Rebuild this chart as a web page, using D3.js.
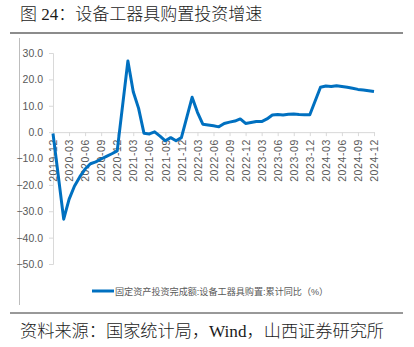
<!DOCTYPE html>
<html>
<head>
<meta charset="utf-8">
<script src="https://cdn.jsdelivr.net/npm/d3@7"></script>
<style>
  html, body { margin: 0; padding: 0; background: #fff; }
  svg { display: block; }
</style>
</head>
<body>
<svg id="chart" width="414" height="347"></svg>
<script>
// Monthly cumulative YoY growth of equipment & tools purchase investment (%)
const months = [
  "2019-12",
  "2020-02","2020-03","2020-04","2020-05","2020-06","2020-07","2020-08","2020-09","2020-10","2020-11","2020-12",
  "2021-02","2021-03","2021-04","2021-05","2021-06","2021-07","2021-08","2021-09","2021-10","2021-11","2021-12",
  "2022-02","2022-03","2022-04","2022-05","2022-06","2022-07","2022-08","2022-09","2022-10","2022-11","2022-12",
  "2023-02","2023-03","2023-04","2023-05","2023-06","2023-07","2023-08","2023-09","2023-10","2023-11","2023-12",
  "2024-02","2024-03","2024-04","2024-05","2024-06","2024-07","2024-08","2024-09","2024-10","2024-11","2024-12"
];
const growth = [
  -0.5,
  -33.0,-25.5,-20.5,-17.0,-14.0,-12.0,-11.3,-10.2,-9.2,-8.2,-7.1,
  27.0,15.3,9.0,-0.4,-0.7,0.1,-1.5,-3.3,-2.1,-3.3,-2.1,
  13.2,7.5,3.0,2.7,2.4,2.0,3.3,3.8,4.2,5.0,3.3,
  4.0,4.0,5.0,6.5,6.7,6.5,6.8,6.9,6.7,6.6,6.6,
  17.0,17.5,17.3,17.6,17.3,17.0,16.6,16.2,16.0,15.7,15.4
];
const xTickLabels = [
  "2019-12","2020-03","2020-06","2020-09","2020-12","2021-03","2021-06","2021-09","2021-12",
  "2022-03","2022-06","2022-09","2022-12","2023-03","2023-06","2023-09","2023-12",
  "2024-03","2024-06","2024-09","2024-12"
];
const yTicks = [30, 20, 10, 0, -10, -20, -30, -40, -50];

const titleText = "图 24：设备工器具购置投资增速";
const legendText = "固定资产投资完成额:设备工器具购置:累计同比（%）";
const sourceText = "资料来源：国家统计局，Wind，山西证券研究所";

// month index relative to the first month of the series
const monthIndex = s => {
  const [y, m] = s.split("-").map(Number);
  return (y - 2019) * 12 + (m - 12);
};

const svg = d3.select("#chart");
const cjk = "'Liberation Serif', 'Noto Sans CJK SC', serif";
const sans = "'Liberation Sans', 'Noto Sans CJK SC', sans-serif";
const narrow = "'Liberation Sans Narrow', 'Liberation Sans', sans-serif";

// header
svg.append("text")
  .attr("x", 20).attr("y", 20)
  .attr("font-family", cjk).attr("font-size", 17).attr("fill", "#1a1a1a")
  .attr("font-weight", 300)
  .text(titleText);
svg.append("line")
  .attr("x1", 10).attr("x2", 403).attr("y1", 33).attr("y2", 33)
  .attr("stroke", "#8c8c8c").attr("stroke-width", 2);

// chart frame edge on the left
svg.append("line")
  .attr("x1", 19.5).attr("x2", 19.5).attr("y1", 38).attr("y2", 305)
  .attr("stroke", "#bdbdbd").attr("stroke-width", 1);

const x = d3.scaleLinear()
  .domain([0, monthIndex("2024-12")])
  .range([53, 374]);
const y = d3.scaleLinear()
  .domain([-50, 30])
  .range([264, 53]);

const grey = "#d9d9d9";
const labelColor = "#595959";

// y axis
const yAxis = svg.append("g")
  .attr("transform", `translate(${x(0)},0)`)
  .call(d3.axisLeft(y).tickValues(yTicks).tickSize(4).tickPadding(6).tickFormat(d3.format(".1f")));
yAxis.select(".domain").attr("stroke", grey);
yAxis.selectAll(".tick line").attr("stroke", grey);
yAxis.selectAll(".tick text")
  .attr("fill", labelColor).attr("font-family", narrow).attr("font-size", 10.5);

// x axis at zero
const xAxis = svg.append("g")
  .attr("transform", `translate(0,${y(0)})`)
  .call(d3.axisBottom(x)
    .tickValues(xTickLabels.map(monthIndex))
    .tickFormat(i => xTickLabels[xTickLabels.map(monthIndex).indexOf(i)])
    .tickSize(4).tickSizeOuter(0));
xAxis.select(".domain").attr("stroke", grey);
xAxis.selectAll(".tick line").attr("stroke", grey);
xAxis.selectAll(".tick text")
  .attr("fill", labelColor).attr("font-family", sans).attr("font-size", 10.5)
  .attr("text-anchor", "end")
  .attr("dy", "0.35em")
  .attr("transform", "translate(0,4) rotate(-90)")
  .attr("x", -3).attr("y", 0)
  .style("letter-spacing", "0.6px");

// series line
const line = d3.line()
  .x((d, i) => x(monthIndex(months[i])))
  .y(d => y(d));
svg.append("path")
  .datum(growth)
  .attr("d", line)
  .attr("fill", "none")
  .attr("stroke", "#0070c0")
  .attr("stroke-width", 3)
  .attr("stroke-linejoin", "round");

// legend
svg.append("line")
  .attr("x1", 92).attr("x2", 114).attr("y1", 291).attr("y2", 291)
  .attr("stroke", "#0070c0").attr("stroke-width", 3);
svg.append("text")
  .attr("x", 115).attr("y", 295)
  .attr("font-family", sans).attr("font-size", 9.1).attr("fill", labelColor)
  .text(legendText);

// footer
svg.append("line")
  .attr("x1", 10).attr("x2", 403).attr("y1", 313).attr("y2", 313)
  .attr("stroke", "#333").attr("stroke-width", 1);
svg.append("text")
  .attr("x", 20).attr("y", 337)
  .attr("font-family", cjk).attr("font-size", 17.2).attr("fill", "#1a1a1a")
  .attr("font-weight", 300)
  .text(sourceText);
</script>
</body>
</html>
